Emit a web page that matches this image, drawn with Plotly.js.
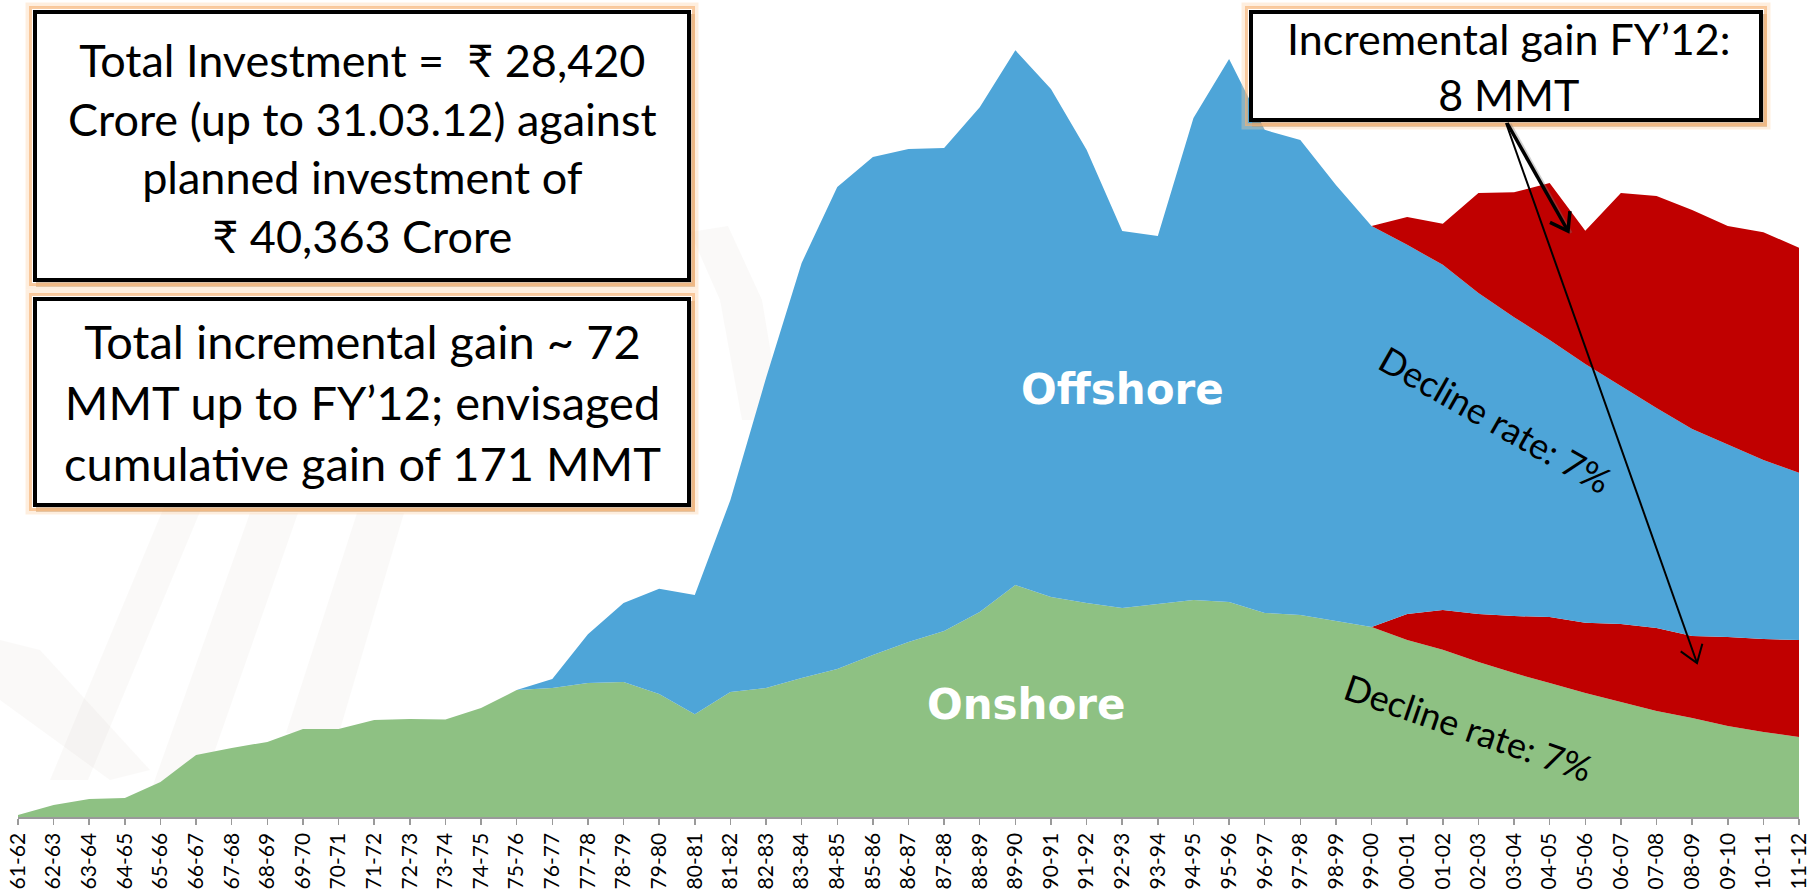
<!DOCTYPE html>
<html><head><meta charset="utf-8">
<script src="https://cdn.plot.ly/plotly-3.0.1.min.js"></script>
<style>html,body{margin:0;padding:0;background:#fff;overflow:hidden}#chart{width:1812px;height:889px}</style>
</head><body><div id="chart"></div>
<script>
// ---------------- DATA ----------------
const years = ['61-62','62-63','63-64','64-65','65-66','66-67','67-68','68-69','69-70','70-71',
  '71-72','72-73','73-74','74-75','75-76','76-77','77-78','78-79','79-80','80-81',
  '81-82','82-83','83-84','84-85','85-86','86-87','87-88','88-89','89-90','90-91',
  '91-92','92-93','93-94','94-95','95-96','96-97','97-98','98-99','99-00','00-01',
  '01-02','02-03','03-04','04-05','05-06','06-07','07-08','08-09','09-10','10-11','11-12'];

const onshoreActual = [0.07,0.44,0.67,0.70,1.30,2.30,2.56,2.78,3.26,3.26,
  3.59,3.63,3.61,4.04,4.70,4.78,4.96,5.00,4.56,3.81,
  4.63,4.78,5.15,5.48,6.00,6.48,6.89,7.59,8.59,8.15,
  7.93,7.74,7.89,8.04,7.96,7.56,7.48,7.26,7.04,7.52,
  7.67,7.52,7.44,7.41,7.19,7.15,7.00,6.70,6.67,6.59,6.56];
const offshoreActual = [0,0,0,0,0,0,0,0,0,0,
  0,0,0,0,0,0.33,1.81,2.93,3.89,4.41,
  7.11,11.48,15.37,17.85,18.44,18.26,17.89,18.70,19.81,18.81,
  16.78,13.96,13.63,17.85,20.11,17.89,17.59,16.15,14.85,14.70,
  14.30,15.59,15.70,16.07,14.52,15.96,16.00,15.78,15.22,15.07,14.52];

// production without IOR/EOR schemes (7% decline) from 99-00 onwards
const declineStart = '99-00';
const onshoreDecline  = [7.04,6.56,6.19,5.74,5.33,4.96,4.59,4.26,3.93,3.67,3.37,3.15,2.96];
const offshoreDecline = [14.85,13.67,12.78,11.89,11.07,10.26,9.59,8.81,8.15,7.67,7.11,6.63,6.19];

// ---------------- DERIVED STACK ----------------
const s = years.indexOf(declineStart);
const onBase  = years.map((y,i)=> i>=s ? onshoreDecline[i-s] : onshoreActual[i]);
const onGain  = years.map((y,i)=> i>=s ? +(onshoreActual[i]-onshoreDecline[i-s]).toFixed(2) : 0);
const offBase = years.map((y,i)=> i>=s ? offshoreDecline[i-s] : offshoreActual[i]);
const offGain = years.map((y,i)=> i>=s ? +(offshoreActual[i]-offshoreDecline[i-s]).toFixed(2) : 0);

const GREEN='#8EC183', BLUE='#4EA5D8', RED='#C00000';
function area(y,c){return {type:'scatter',mode:'lines',x:years,y:y,stackgroup:'one',
  line:{width:0,color:c},fillcolor:c,hoverinfo:'skip'};}
const traces=[area(onBase,GREEN),area(onGain,RED),area(offBase,BLUE),area(offGain,RED)];

// ---------------- LAYOUT HELPERS ----------------
const W=1812,H=889,L=18,R=13,T=0,B=72;
const pw=W-L-R, ph=H-T-B;
const px=x=>(x-L)/pw, py=y=>(H-B-y)/ph;
function path(pts){return 'M'+pts.map(p=>px(p[0]).toFixed(5)+','+py(p[1]).toFixed(5)).join(' L')+' Z';}
function openPath(pts){return 'M'+pts.map(p=>px(p[0]).toFixed(5)+','+py(p[1]).toFixed(5)).join(' L');}
function rect(x0,y0,x1,y1,extra){return Object.assign({type:'rect',xref:'paper',yref:'paper',
  x0:px(x0),x1:px(x1),y0:py(y1),y1:py(y0),layer:'above'},extra);}
function box(x0,y0,x1,y1){
  return [
    rect(x0+3,y0+4,x1+4,y1+5,{fillcolor:'rgba(170,115,60,0.45)',line:{width:0}}),
    rect(x0-5,y0-5,x1+5,y1+5,{fillcolor:'rgba(0,0,0,0)',line:{width:5,color:'rgba(252,205,160,0.35)'}}),
    rect(x0-2.5,y0-2.5,x1+2.5,y1+2.5,{fillcolor:'rgba(0,0,0,0)',line:{width:3,color:'rgba(246,178,115,0.65)'}}),
    rect(x0+2,y0+2,x1-2,y1-2,{fillcolor:'#fff',line:{width:4,color:'#000'}})
  ];
}
function arrow(tail,tip,w,head){
  const dx=tip[0]-tail[0], dy=tip[1]-tail[1], len=Math.hypot(dx,dy);
  const bx=-dx/len, by=-dy/len, a=35*Math.PI/180, c=Math.cos(a), sn=Math.sin(a);
  const a1=[tip[0]+head*(bx*c-by*sn), tip[1]+head*(bx*sn+by*c)];
  const a2=[tip[0]+head*(bx*c+by*sn), tip[1]+head*(-bx*sn+by*c)];
  const st={type:'path',xref:'paper',yref:'paper',layer:'above',line:{color:'#000',width:w}};
  return [Object.assign({path:openPath([tail,tip])},st),
          Object.assign({path:openPath([a1,tip,a2])},st)];
}
const wm={type:'path',xref:'paper',yref:'paper',layer:'below',fillcolor:'rgba(215,205,200,0.13)',line:{width:0}};
const shapes=[
  Object.assign({path:path([[50,780],[88,780],[202,507],[164,507]])},wm),
  Object.assign({path:path([[143,813],[193,813],[298,513],[250,513]])},wm),
  Object.assign({path:path([[286,733],[339,733],[404,513],[357,513]])},wm),
  Object.assign({path:path([[0,640],[40,650],[150,770],[110,780],[0,700]])},wm),
  Object.assign({path:path([[690,232],[720,300],[742,420],[782,420],[762,300],[728,226]])},wm),
  ...box(33,10,691,282),
  ...box(33,297,691,507),
  ...box(1249,10,1763,122),
  {type:'path',xref:'paper',yref:'paper',layer:'above',line:{color:'rgba(120,120,120,0.35)',width:3},
   path:openPath([[1510,124],[1571,233]])},
  ...arrow([1507,123],[1568,231],3.5,20),
  ...arrow([1506,123],[1697,663],2,20)
];

const FONT='Lato, "Open Sans", sans-serif';
function note(x,y,text,font,extra){return Object.assign({xref:'paper',yref:'paper',x:px(x),y:py(y),
  xanchor:'center',yanchor:'middle',text:text,showarrow:false,font:font,align:'center'},extra||{});}
const annotations=[
  note(362,148,'Total Investment =\u00a0\u00a0₹ 28,420<br>Crore (up to 31.03.12) against<br>planned investment of<br>₹ 40,363 Crore',{family:FONT,size:45,color:'#000'}),
  note(362,402,'Total incremental gain ~ 72<br>MMT up to FY’12; envisaged<br>cumulative gain of 171 MMT',{family:FONT,size:47,color:'#000'}),
  note(1508,67,'Incremental gain FY’12:<br>8 MMT',{family:FONT,size:43,color:'#000'}),
  note(1122,389,'<b>Offshore</b>',{family:'"DejaVu Sans", Verdana, sans-serif',size:42,color:'#fff'}),
  note(1026,704,'<b>Onshore</b>',{family:'"DejaVu Sans", Verdana, sans-serif',size:42,color:'#fff'}),
  note(1495,419,'Decline rate: 7%',{family:FONT,size:36,color:'#000'},{textangle:29.5}),
  note(1468,727,'Decline rate: 7%',{family:FONT,size:36,color:'#000'},{textangle:19})
];

const layout={
  width:W,height:H,margin:{l:L,r:R,t:T,b:B},
  paper_bgcolor:'#fff',plot_bgcolor:'rgba(0,0,0,0)',showlegend:false,hovermode:false,
  xaxis:{type:'category',range:[0,years.length-1],tickmode:'linear',tick0:0,dtick:1,
    tickangle:-90,ticks:'outside',ticklen:6,tickwidth:1.5,tickcolor:'#9a9a9a',
    showline:true,linecolor:'#9a9a9a',linewidth:1.5,showgrid:false,zeroline:false,
    tickfont:{family:FONT,size:21,color:'#000'},automargin:false,fixedrange:true},
  yaxis:{range:[0,ph/27],visible:false,showgrid:false,zeroline:false,fixedrange:true},
  shapes:shapes,annotations:annotations
};
Plotly.newPlot('chart',traces,layout,{displayModeBar:false,staticPlot:true});
</script></body></html>
